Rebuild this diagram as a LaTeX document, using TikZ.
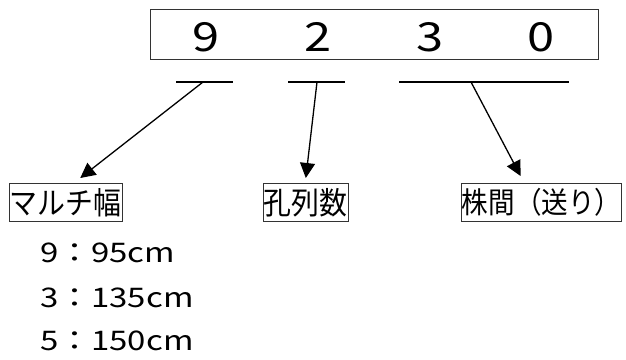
\documentclass[tikz,border=0pt]{standalone}
\usepackage{fontspec}
\newfontfamily\jpfont{Noto Sans CJK JP}
\newfontfamily\jpwide{Noto Sans CJK JP}[FakeStretch=1.22]
\newfontfamily\jpnarrow{Noto Sans CJK JP}[FakeStretch=0.9]
\usetikzlibrary{positioning}
\usetikzlibrary{arrows.meta}
\tikzset{
    codebox/.style = {rectangle, draw=black!80, line width=1pt, minimum width=448pt, minimum height=50pt},
    digit/.style = {inner sep=0pt, font=\jpwide\fontsize{40}{40}\selectfont},
    itembox/.style = {rectangle, draw=black!80, line width=0.9pt, inner xsep=0.5pt, minimum height=38pt, font=\jpnarrow\fontsize{31}{31}\selectfont},
    valtext/.style = {inner sep=0pt, font=\jpwide\fontsize{27}{27}\selectfont},
    uline/.style = {line width=1.6pt},
    edgen/.style = {-{Triangle[length=15pt,width=15pt]}, line width=1.3pt}
}
\begin{document}
\begin{tikzpicture}[x=1pt,y=-1pt]
\path[use as bounding box] (0,0) rectangle (626,359);
%
\node[codebox] at (374,34) (code) {};
\node[digit, anchor=base] at (206,51) (d9) {9};
\node[digit, anchor=base] at (318,51) (d2) {2};
\node[digit, anchor=base] at (430,51) (d3) {3};
\node[digit, anchor=base] at (541,51) (d0) {0};
%
\coordinate (u1w) at (176,82);
\coordinate (u1e) at (233,82);
\coordinate (u2w) at (288,82);
\coordinate (u2e) at (345,82);
\coordinate (u3w) at (399,82);
\coordinate (u3e) at (569,82);
\coordinate (s1) at (203,82);
\coordinate (s2) at (317,82);
\coordinate (s3) at (471,82);
\draw[uline] (u1w) -- (u1e);
\draw[uline] (u2w) -- (u2e);
\draw[uline] (u3w) -- (u3e);
%
\node[itembox, anchor=north west] at (9,183) (mw) {マルチ幅};
\node[itembox, anchor=north west] at (263,183) (kr) {孔列数};
\node[itembox, anchor=north west, font=\jpnarrow\fontsize{29.5}{29.5}\selectfont] at (461,183) (kk) {株間（送り）};
%
\draw[edgen] (s1) -- ([xshift=14.5pt,yshift=5pt]mw.north);
\draw[edgen] (s2) -- ([yshift=5pt]kr.north);
\draw[edgen] (s3) -- ([xshift=-21pt,yshift=7pt]kk.north);
%
\node[valtext, anchor=base west] at (40,262) (v1) {9：95cm};
\node[valtext, anchor=base west] at (40,307) (v2) {3：135cm};
\node[valtext, anchor=base west] at (40,350) (v3) {5：150cm};

\end{tikzpicture}
\end{document}
